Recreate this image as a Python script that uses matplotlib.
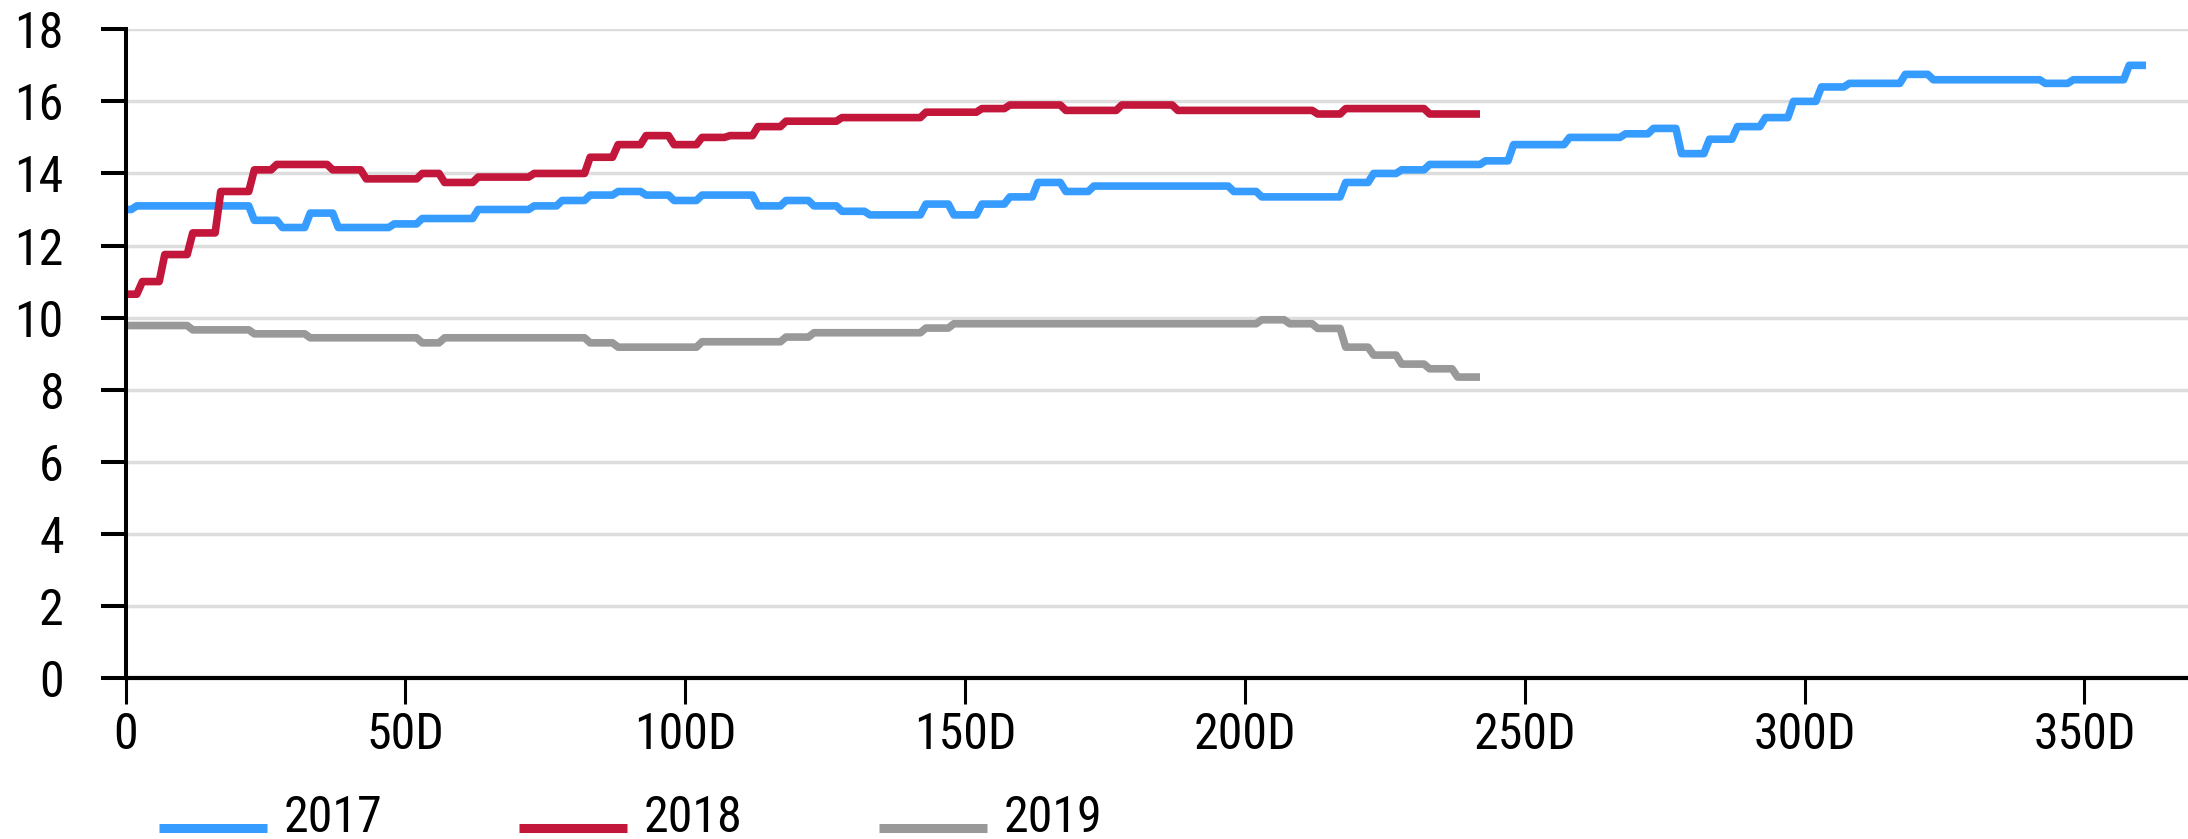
import numpy as np
import matplotlib
matplotlib.use("Agg")
import matplotlib.pyplot as plt
from matplotlib import font_manager as fm
from matplotlib.lines import Line2D

# Series as level changes: day on which each new level starts, and the level.
blue_start = [0, 2, 23, 28, 33, 38, 48, 53, 63, 73, 78, 83, 88, 93, 98, 103, 113, 118, 123, 128,
              133, 143, 148, 153, 158, 163, 168, 173, 198, 203, 218, 223, 228, 233, 243, 248, 258,
              268, 273, 278, 283, 288, 293, 298, 303, 308, 318, 323, 343, 348, 358]
blue_level = [13.0, 13.1, 12.7, 12.5, 12.9, 12.5, 12.6, 12.75, 13.0, 13.1, 13.25, 13.4, 13.5, 13.4,
              13.25, 13.4, 13.1, 13.25, 13.1, 12.95, 12.85, 13.15, 12.85, 13.15, 13.35, 13.75, 13.5,
              13.65, 13.5, 13.35, 13.75, 14.0, 14.1, 14.25, 14.35, 14.8, 15.0, 15.1, 15.25, 14.55,
              14.95, 15.3, 15.55, 16.0, 16.4, 16.5, 16.75, 16.6, 16.5, 16.6, 17.0]
blue_end = 361

red_start = [0, 3, 7, 12, 17, 23, 27, 37, 43, 53, 57, 63, 73, 83, 88, 93, 98, 103, 108, 113,
             118, 128, 143, 153, 158, 168, 178, 188, 213, 218, 233]
red_level = [10.65, 11.0, 11.75, 12.35, 13.5, 14.1, 14.25, 14.1, 13.85, 14.0, 13.75, 13.9, 14.0,
             14.45, 14.8, 15.05, 14.8, 15.0, 15.05, 15.3, 15.45, 15.55, 15.7, 15.8, 15.9, 15.75,
             15.9, 15.75, 15.65, 15.8, 15.65]
red_end = 242

gray_start = [0, 12, 23, 33, 53, 57, 83, 88, 103, 118, 123, 143, 148, 203, 208, 213, 218, 223,
              228, 233, 238]
gray_level = [9.78, 9.66, 9.55, 9.44, 9.3, 9.44, 9.3, 9.18, 9.33, 9.46, 9.58, 9.71, 9.83, 9.94,
              9.83, 9.7, 9.18, 8.96, 8.71, 8.58, 8.35]
gray_end = 242

series_names = ["2017", "2018", "2019"]
colors = ["#379CFF", "#C3163B", "#999999"]

x_ticks = [0, 50, 100, 150, 200, 250, 300, 350]
x_tick_labels = ["0", "50D", "100D", "150D", "200D", "250D", "300D", "350D"]
y_ticks = [0, 2, 4, 6, 8, 10, 12, 14, 16, 18]


def daily(starts, levels, end):
    days = np.arange(0, end + 1)
    idx = np.searchsorted(np.asarray(starts), days, side="right") - 1
    return days, np.asarray(levels)[idx]


def narrow_font():
    """Pick a narrow sans-serif face if one is installed."""
    fonts = [f for f in fm.fontManager.ttflist
             if f.style == "normal" and f.weight in (400, "normal", "regular")]
    for f in fonts:
        if f.name == "Liberation Sans Narrow":
            return f.fname, True
    for fam in ["Roboto Condensed", "Open Sans Condensed", "Noto Sans Condensed",
                "DejaVu Sans Condensed"]:
        for f in fonts:
            if f.name == fam:
                return f.fname, True
    for f in fonts:
        if f.stretch in ("condensed", "semi-condensed") and "Mono" not in f.name \
                and "Serif" not in f.name and "CJK" not in f.name:
            return f.fname, True
    for f in fonts:
        if f.name == "Liberation Sans":
            return f.fname, False
    return None, False


font_path, is_narrow = narrow_font()
tick_size = 36 if is_narrow else 31
legend_size = 36 if is_narrow else 31


def fprop(size):
    if font_path:
        return fm.FontProperties(fname=font_path, size=size)
    return fm.FontProperties(family="DejaVu Sans", size=size)


W, H = 2188, 839
fig = plt.figure(figsize=(W / 100, H / 100), dpi=100)
ax = fig.add_axes([125.6 / W, (H - 678) / H, 1 - 125.6 / W, (678 - 29.3) / H])

ax.set_xlim(0, 368.5)
ax.set_ylim(0, 18)

for y in y_ticks[1:]:
    ax.axhline(y, color="#dddddd", lw=2.5, zorder=1)

data = [daily(blue_start, blue_level, blue_end),
        daily(red_start, red_level, red_end),
        daily(gray_start, gray_level, gray_end)]
for (d, v), c in zip(data, colors):
    ax.plot(d, v, color=c, lw=5.5, solid_capstyle="butt", solid_joinstyle="round",
            zorder=3, clip_on=False)

for s in ["top", "right"]:
    ax.spines[s].set_visible(False)
ax.spines["left"].set_linewidth(2.9)
ax.spines["bottom"].set_linewidth(3.0)
ax.spines["left"].set_zorder(4)
ax.spines["bottom"].set_zorder(4)

ax.set_yticks(y_ticks)
ax.set_yticklabels([str(v) for v in y_ticks])
ax.set_xticks(x_ticks)
ax.set_xticklabels(x_tick_labels)
ax.tick_params(axis="y", direction="out", length=18, width=2.9, pad=26.5)
ax.tick_params(axis="x", direction="out", length=18.7, width=2.2, pad=5)
for lab in ax.get_xticklabels() + ax.get_yticklabels():
    lab.set_fontproperties(fprop(tick_size))

# Legend drawn along the bottom edge
handle_x = [159, 519, 879]
for hx, c, name in zip(handle_x, colors, series_names):
    fig.add_artist(Line2D([hx / W, (hx + 108) / W], [11 / H, 11 / H], color=c, lw=6.5,
                          solid_capstyle="butt", transform=fig.transFigure))
    fig.text((hx + 125) / W, 6.5 / H, name, fontproperties=fprop(legend_size),
             ha="left", va="baseline")

fig.savefig("out.png", dpi=100)
